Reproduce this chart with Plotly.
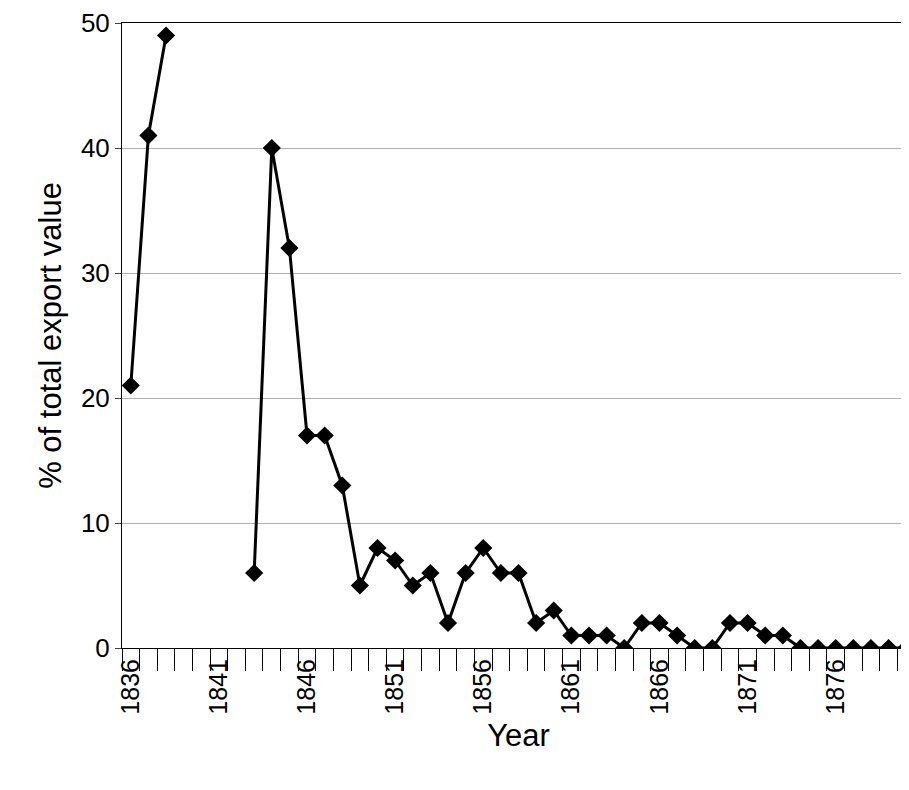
import plotly.graph_objects as go

years = list(range(1836, 1881))
values = [21, 41, 49, None, None, None, None, 6, 40, 32, 17, 17, 13, 5, 8, 7, 5, 6, 2, 6, 8, 6, 6, 2, 3,
          1, 1, 1, 0, 2, 2, 1, 0, 0, 2, 2, 1, 1, 0, 0, 0, 0, 0, 0, 0]

fig = go.Figure(go.Scatter(x=years, y=values, mode="lines+markers",
                           line=dict(color="black", width=3),
                           marker=dict(symbol="diamond", size=14, color="black"),
                           connectgaps=False))
fig.update_layout(width=909, height=790, plot_bgcolor="white", paper_bgcolor="white",
                  margin=dict(l=114, r=2, t=15, b=150), showlegend=False,
                  font=dict(family="Liberation Sans, Arial", color="black"))
fig.update_xaxes(range=[1835.5, 1880.5], tickmode="array", tickvals=list(range(1836, 1880, 5)),
                 tickangle=-90, tickfont=dict(size=25), ticks="", automargin=False,
                 minor=dict(dtick=1, tick0=1835.5, ticks="outside", ticklen=22, tickcolor="black"),
                 showline=True, linecolor="black", linewidth=1, mirror=True, showgrid=False,
                 title=dict(text="Year", font=dict(size=31), standoff=10))
fig.update_yaxes(range=[0, 50], dtick=10, tickfont=dict(size=26), ticks="outside", ticklen=6,
                 showline=True, linecolor="black", linewidth=1, mirror=True, automargin=False,
                 gridcolor="#b0b0b0", zeroline=False,
                 title=dict(text="% of total export value", font=dict(size=31), standoff=10))
fig.write_html("out.html")
